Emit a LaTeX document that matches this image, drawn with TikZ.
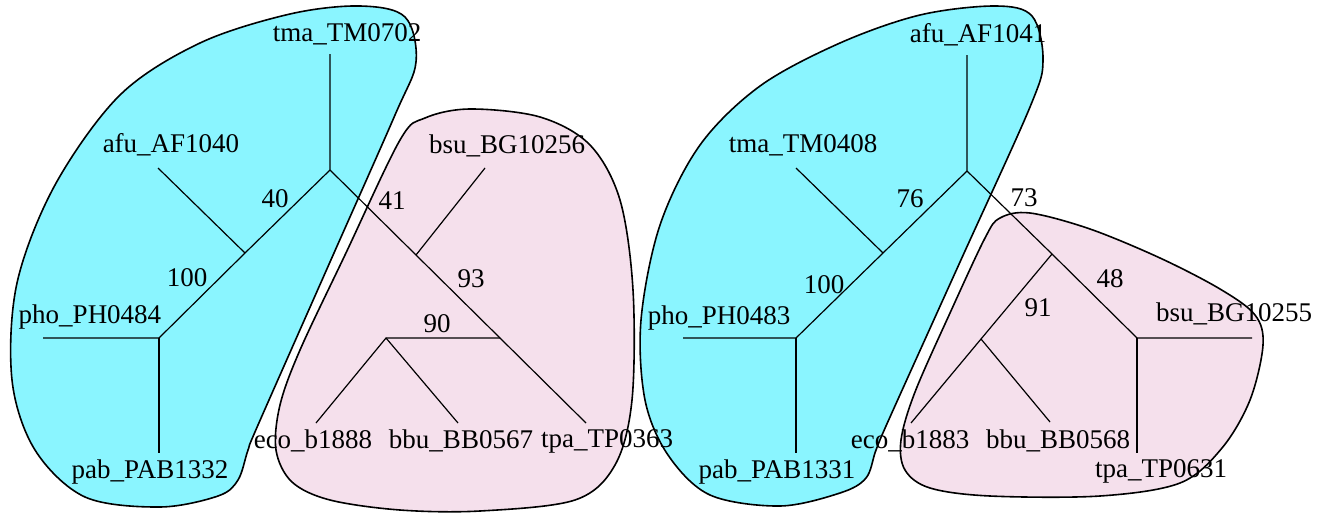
\documentclass[tikz,border=0pt]{standalone}
\usepackage{fontspec}
\setmainfont{Liberation Serif}
\definecolor{hullcyan}{RGB}{138,245,255}
\definecolor{hullpink}{RGB}{245,224,236}
\tikzset{
  gene/.style={inner sep=0pt, font=\fontsize{13.5}{16}\selectfont},
  edge/.style={line width=0.6pt},
  hull/.style={draw=black, line width=0.8pt}
}
\begin{document}
\begin{tikzpicture}[x=0.5pt, y=-0.5pt]
    \useasboundingbox (0,0) rectangle (1331,514);

    % Clusters
    \filldraw[hull, fill=hullcyan] plot[smooth cycle, tension=0.55] coordinates {
      (416,62) (405,17) (360,6) (290,14) (200,43) (120,95) (55,185) (17,283)
      (12,380) (35,450) (85,497) (160,507) (218,496) (238,480) (248,450)
      (258,425) (330,262) (395,115)};
    \filldraw[hull, fill=hullpink] plot[smooth cycle, tension=0.55] coordinates {
      (400,140) (425,118) (470,109) (540,117) (590,145) (620,200) (633,290)
      (632,400) (615,465) (575,500) (480,511) (400,510) (330,500) (292,482)
      (276,450) (280,405) (300,350) (345,255)};
    \filldraw[hull, fill=hullcyan] plot[smooth cycle, tension=0.55] coordinates {
      (1043,60) (1032,16) (995,6) (920,15) (840,43) (760,86) (700,145)
      (660,225) (641,320) (645,400) (668,455) (710,495) (780,506) (840,493)
      (866,478) (876,450) (890,417) (960,262) (1030,107)};
    \filldraw[hull, fill=hullpink] plot[smooth cycle, tension=0.55] coordinates {
      (1000,218) (1030,213) (1090,229) (1160,258) (1220,289) (1255,315)
      (1263,345) (1250,400) (1222,448) (1180,483) (1100,496) (990,496)
      (930,488) (905,470) (901,440) (915,392) (950,313) (985,238)};

    % Left tree
    \coordinate (rootL) at (330,170);
    \coordinate (midL) at (245,253);
    \coordinate (baseL) at (159,338);
    \coordinate (joinL) at (416,255);
    \coordinate (cutL) at (500,338);
    \coordinate (pairL) at (386,338);
    \coordinate (tmaL) at (330,54);
    \coordinate (afuL) at (158,168);
    \coordinate (phoL) at (43,338);
    \coordinate (pabL) at (159,453);
    \coordinate (bsuL) at (485,168);
    \coordinate (ecoL) at (316,423);
    \coordinate (bbuL) at (458,423);
    \coordinate (tpaL) at (586,423);

    \draw[edge] (tmaL) -- (rootL) -- (midL) -- (baseL) -- (phoL);
    \draw[edge] (afuL) -- (midL);
    \draw[edge] (baseL) -- (pabL);
    \draw[edge] (rootL) -- (joinL) -- (cutL) -- (tpaL);
    \draw[edge] (bsuL) -- (joinL);
    \draw[edge] (cutL) -- (pairL) -- (ecoL);
    \draw[edge] (pairL) -- (bbuL);

    \node[gene] (tmaLtxt) at (347,34) {tma\_TM0702};
    \node[gene] (afuLtxt) at (171,145) {afu\_AF1040};
    \node[gene] (bsuLtxt) at (507,146) {bsu\_BG10256};
    \node[gene] (phoLtxt) at (90,317) {pho\_PH0484};
    \node[gene] (pabLtxt) at (150,472) {pab\_PAB1332};
    \node[gene] (ecoLtxt) at (313,441) {eco\_b1888};
    \node[gene] (bbuLtxt) at (461,441) {bbu\_BB0567};
    \node[gene] (tpaLtxt) at (607,441) {tpa\_TP0363};
    \node[gene] (bootLa) at (275,199) {40};
    \node[gene] (bootLb) at (187,278) {100};
    \node[gene] (bootLc) at (392,201) {41};
    \node[gene] (bootLd) at (471,279) {93};
    \node[gene] (bootLe) at (437,324) {90};

    % Right tree
    \coordinate (rootR) at (967,171);
    \coordinate (midR) at (883,253);
    \coordinate (baseR) at (796,338);
    \coordinate (joinR) at (1052,254);
    \coordinate (forkR) at (1137,338);
    \coordinate (pairR) at (981,339);
    \coordinate (afuR) at (967,55);
    \coordinate (tmaR) at (796,168);
    \coordinate (phoR) at (683,338);
    \coordinate (pabR) at (796,453);
    \coordinate (ecoR) at (911,423);
    \coordinate (bbuR) at (1050,422);
    \coordinate (bsuR) at (1252,338);
    \coordinate (tpaR) at (1137,453);

    \draw[edge] (afuR) -- (rootR) -- (midR) -- (baseR) -- (phoR);
    \draw[edge] (tmaR) -- (midR);
    \draw[edge] (baseR) -- (pabR);
    \draw[edge] (rootR) -- (joinR) -- (forkR) -- (bsuR);
    \draw[edge] (forkR) -- (tpaR);
    \draw[edge] (joinR) -- (pairR) -- (ecoR);
    \draw[edge] (pairR) -- (bbuR);

    \node[gene] (afuRtxt) at (978,35) {afu\_AF1041};
    \node[gene] (tmaRtxt) at (803,145) {tma\_TM0408};
    \node[gene] (phoRtxt) at (719,318) {pho\_PH0483};
    \node[gene] (pabRtxt) at (777,472) {pab\_PAB1331};
    \node[gene] (ecoRtxt) at (910,441) {eco\_b1883};
    \node[gene] (bbuRtxt) at (1058,441) {bbu\_BB0568};
    \node[gene] (bsuRtxt) at (1234,314) {bsu\_BG10255};
    \node[gene] (tpaRtxt) at (1161,471) {tpa\_TP0631};
    \node[gene] (bootRa) at (910,199) {76};
    \node[gene] (bootRb) at (824,285) {100};
    \node[gene] (bootRc) at (1024,198) {73};
    \node[gene] (bootRd) at (1110,279) {48};
    \node[gene] (bootRe) at (1038,308) {91};
\end{tikzpicture}
\end{document}
